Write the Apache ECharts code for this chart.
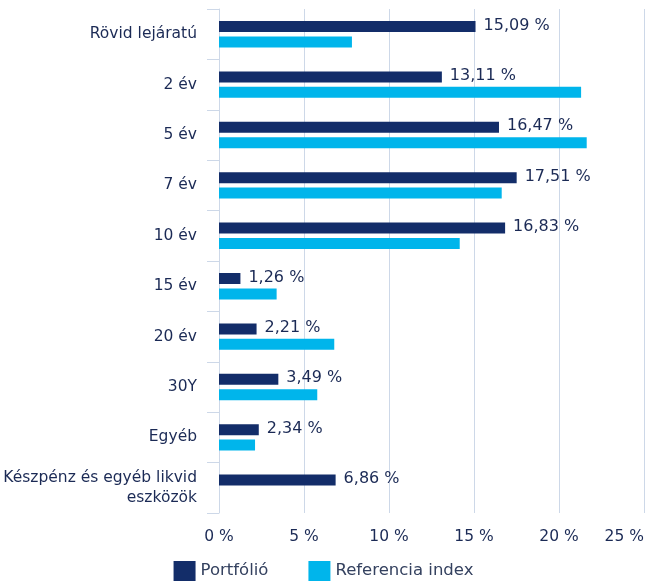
<!DOCTYPE html>
<html>
<head>
<meta charset="utf-8">
<script src="https://cdn.jsdelivr.net/npm/echarts@6/dist/echarts.min.js"></script>
<style>html,body{margin:0;padding:0;background:#fff}#c{width:647px;height:583px}</style>
</head>
<body>
<div id="c"></div>
<script>
const categories = ["Rövid lejáratú", "2 év", "5 év", "7 év", "10 év", "15 év", "20 év", "30Y", "Egyéb", "Készpénz és egyéb likvid\neszközök"];
const portfolio = [15.09, 13.11, 16.47, 17.51, 16.83, 1.26, 2.21, 3.49, 2.34, 6.86];
const referencia = [7.82, 21.3, 21.63, 16.63, 14.16, 3.39, 6.78, 5.78, 2.12, 0];
const xTicks = [0, 5, 10, 15, 20, 25];
const seriesNames = ["Portfólió", "Referencia index"];

const FONT = "DejaVu Sans";
const TXT = "#1b2a55";
const chart = echarts.init(document.getElementById('c'), null, {renderer: 'canvas'});
chart.setOption({
  animation: false,
  textStyle: {fontFamily: FONT},
  grid: {left: 219, right: 3, top: 9, bottom: 70, containLabel: false},
  legend: {
    bottom: -3, left: 'center', itemWidth: 22, itemHeight: 20, itemGap: 40,
    icon: 'rect',
    textStyle: {fontFamily: FONT, fontSize: 16.5, color: '#34415f'},
    data: seriesNames
  },
  xAxis: {
    type: 'value', min: xTicks[0], max: xTicks[xTicks.length - 1], interval: 5,
    axisLine: {show: false}, axisTick: {show: false},
    splitLine: {show: true, lineStyle: {color: '#cdd8e8', width: 1}},
    axisLabel: {color: TXT, fontSize: 15.5, fontFamily: FONT, margin: 16, alignMaxLabel: 'right',
      formatter: v => v + ' %'}
  },
  yAxis: {
    type: 'category', inverse: true, data: categories,
    axisLine: {show: true, lineStyle: {color: '#cdd8e8', width: 1}},
    axisTick: {show: true, length: 12, lineStyle: {color: '#cdd8e8'}},
    axisLabel: {color: TXT, fontSize: 15.5, fontFamily: FONT, margin: 22, align: 'right', lineHeight: 20}
  },
  series: [
    {
      name: seriesNames[0], type: 'bar', data: portfolio, barWidth: 11, barGap: '40%',
      itemStyle: {color: '#132d69'},
      label: {show: true, position: 'right', distance: 8, color: TXT, fontSize: 16, fontFamily: FONT,
        offset: [0, -1],
        formatter: p => p.value.toFixed(2).replace('.', ',') + ' %'}
    },
    {
      name: seriesNames[1], type: 'bar', data: referencia, barWidth: 11,
      itemStyle: {color: '#00b5eb'}
    }
  ]
});
</script>
</body>
</html>
